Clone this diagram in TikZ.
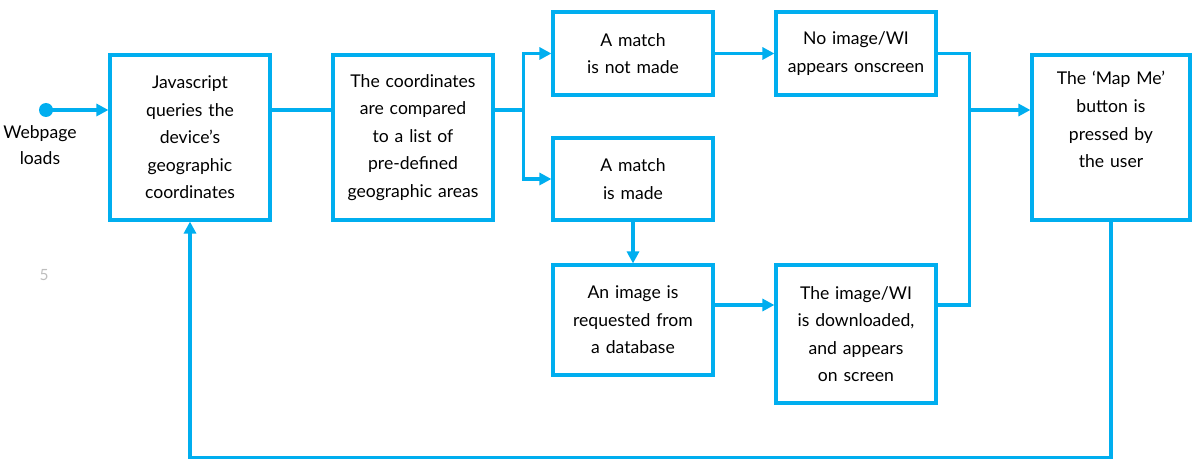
\documentclass[tikz,border=0pt]{standalone}
\usepackage{fontspec}
\setmainfont{Lato}
\usepackage{xcolor}
\usepackage{tikz}
\usetikzlibrary{arrows.meta, positioning, calc}
\definecolor{FlowBlue}{RGB}{0, 174, 239}
\definecolor{PageGray}{RGB}{190, 190, 190}

\tikzset{
  flowbox/.style={
    draw=FlowBlue,
    line width=2.2pt,
    minimum width=4cm,
    text width=3.8cm,
    align=center,
    inner sep=0pt,
    font=\fontsize{12.5}{19.6}\selectfont
  },
  flowline/.style={
    draw=FlowBlue,
    line width=2.2pt
  },
  flowarrow/.style={
    flowline,
    -{Triangle[length=0.3cm, width=0.3cm]}
  }
}

\begin{document}
\begin{tikzpicture}[x=0.025cm, y=-0.025cm]
        \useasboundingbox (0,0) rectangle (1192,459);

        % rows the arrows run along
        \coordinate (row) at (0,110);
        \coordinate (lowrow) at (0,305);

        % start point
        \fill[FlowBlue] (46,110) circle (7) coordinate (start);
        \node[
          align=center,
          font=\fontsize{12.5}{19}\selectfont
        ] (startlabel) at (40,145) {Webpage\\loads};
        \node[text=PageGray, font=\fontsize{11}{13}\selectfont] (pagenum) at (44,275) {5};

        % boxes
        \node[flowbox, minimum height=4.125cm] (query) at (190,137.5)
          {Javascript\\queries the\\device’s\\geographic\\coordinates};
        \node[flowbox, minimum height=4.125cm] (compare) at (413,137.5)
          {The coordinates\\are compared\\to a list of\\pre-defined\\geographic areas};
        \node[flowbox, minimum height=2.075cm] (nomatch) at (633,53.5)
          {A match\\is not made};
        \node[flowbox, minimum height=2.05cm] (match) at (633,179)
          {A match\\is made};
        \node[flowbox, minimum height=2.75cm] (request) at (633,320)
          {An image is\\requested from\\a database};
        \node[flowbox, minimum height=2.075cm] (noimage) at (856,53.5)
          {No image/WI\\appears onscreen};
        \node[flowbox, minimum height=3.45cm] (download) at (856,334)
          {The image/WI\\is downloaded,\\and appears\\on screen};
        \node[flowbox, minimum width=3.95cm, minimum height=4.125cm] (mapme) at (1111,137.5)
          {The ‘Map Me’\\button is\\pressed by\\the user\\\strut};

        % connectors
        \draw[flowarrow] (start) -- (start -| query.west);
        \draw[flowline] (query.east |- row) -- (compare.west |- row);
        \draw[flowline] (compare.east |- row) -- ++(29,0) coordinate (fork);
        \draw[flowarrow] (fork) |- (nomatch.west);
        \draw[flowarrow] (fork) |- (match.west);
        \draw[flowarrow] (nomatch.east) -- (noimage.west);
        \draw[flowarrow] (match.south) -- (request.north);
        \draw[flowarrow] (request.east |- lowrow) -- (download.west |- lowrow);
        \draw[flowline] (noimage.east) -- ++(32,0) coordinate (join)
          -- (join |- lowrow) -- (download.east |- lowrow);
        \draw[flowarrow] (join |- row) -- (mapme.west |- row);
        \draw[flowarrow] (mapme.south) -- ++(0,236) -| (query.south);
      \end{tikzpicture}
\end{document}
